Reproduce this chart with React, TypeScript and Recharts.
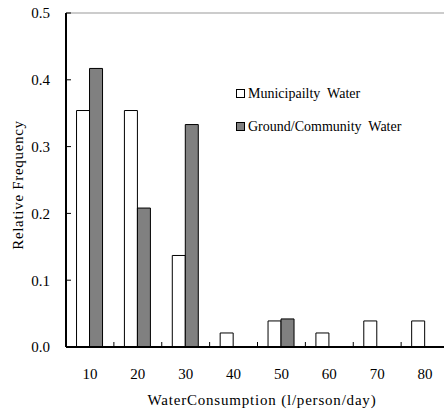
import React from 'react';
import { BarChart, Bar, XAxis, YAxis, ReferenceLine, Legend } from 'recharts';

const categories = ['10', '20', '30', '40', '50', '60', '70', '80'];
const municipalValues = [0.354, 0.354, 0.137, 0.021, 0.039, 0.021, 0.039, 0.039];
const groundValues = [0.417, 0.208, 0.333, 0, 0.042, 0, 0, 0];
const yTicks = [0, 0.1, 0.2, 0.3, 0.4, 0.5];
const seriesNames = ['Municipailty  Water', 'Ground/Community  Water'];
const seriesColors = ['#ffffff', '#808080'];

const data = categories.map((c, i) => ({
  category: c,
  municipal: municipalValues[i],
  ground: groundValues[i],
}));

const FONT = 'Liberation Serif, Tinos, DejaVu Serif, serif';
const X_TICK_MARGIN = 21;

const XTick = (props: any) => {
  const { x, y, payload } = props;
  const axisY = y - X_TICK_MARGIN;
  const off = payload && typeof payload.offset === 'number' ? payload.offset : 24;
  return (
    <g>
      <line x1={x - off} x2={x - off} y1={axisY} y2={axisY - 5} stroke="#000" strokeWidth={1} />
      <text x={x} y={y} dy="0.71em" textAnchor="middle" fontSize={15} fill="#000" style={{ fontFamily: FONT }}>
        {payload.value}
      </text>
    </g>
  );
};

const LegendContent = () => (
  <div style={{ fontFamily: FONT, fontSize: 14, color: '#000' }}>
    {seriesNames.map((n, i) => (
      <div key={n} style={{ display: 'flex', alignItems: 'center', height: 33 }}>
        <span
          style={{
            display: 'inline-block',
            width: 7,
            height: 7,
            border: '1px solid #000',
            background: seriesColors[i],
            marginRight: 3,
          }}
        />
        <span style={{ whiteSpace: 'pre' }}>{n}</span>
      </div>
    ))}
  </div>
);

export default function App() {
  return (
    <div style={{ position: 'absolute', left: 0, top: 0, width: 444, height: 411, overflow: 'hidden', background: '#fff', fontFamily: FONT }}>
      <BarChart
        width={460}
        height={411}
        data={data}
        margin={{ top: 13, right: 11, left: 0, bottom: 34 }}
        barCategoryGap="22%"
        barGap={0}
        style={{ fontFamily: FONT }}
      >
        <XAxis
          dataKey="category"
          height={30}
          axisLine={{ stroke: '#000', strokeWidth: 2 }}
          tickLine={false}
          tickSize={0}
          tickMargin={X_TICK_MARGIN}
          tick={<XTick />}
          interval={0}
          label={{
            content: () => (
              <text x={262} y={400} dy="0.35em" textAnchor="middle" fontSize={15} fill="#000" style={{ fontFamily: FONT, letterSpacing: 0.8 }}>
                WaterConsumption (l/person/day)
              </text>
            ),
          }}
        />
        <YAxis
          width={66}
          domain={[0, 0.5]}
          ticks={yTicks}
          tickFormatter={(v: number) => v.toFixed(1)}
          axisLine={{ stroke: '#000', strokeWidth: 2 }}
          tickLine={{ stroke: '#000' }}
          tickSize={-5}
          tickMargin={21}
          tick={{ fontSize: 15, fill: '#000', style: { fontFamily: FONT } }}
          label={{
            content: () => (
              <text
                x={18}
                y={185}
                transform="rotate(-90, 18, 185)"
                dy="0.35em"
                textAnchor="middle"
                fontSize={15}
                fill="#000"
                style={{ fontFamily: FONT, letterSpacing: 0.7 }}
              >
                Relative Frequency
              </text>
            ),
          }}
        />
        <ReferenceLine y={0.5} stroke="#999" strokeWidth={1} />
        <Legend
          layout="vertical"
          align="center"
          verticalAlign="middle"
          content={<LegendContent />}
          wrapperStyle={{ left: 236, top: 77, width: 200 }}
        />
        <Bar dataKey="municipal" name={seriesNames[0]} fill={seriesColors[0]} stroke="#000" strokeWidth={1} isAnimationActive={false} />
        <Bar dataKey="ground" name={seriesNames[1]} fill={seriesColors[1]} stroke="#000" strokeWidth={1} isAnimationActive={false} />
      </BarChart>
    </div>
  );
}
